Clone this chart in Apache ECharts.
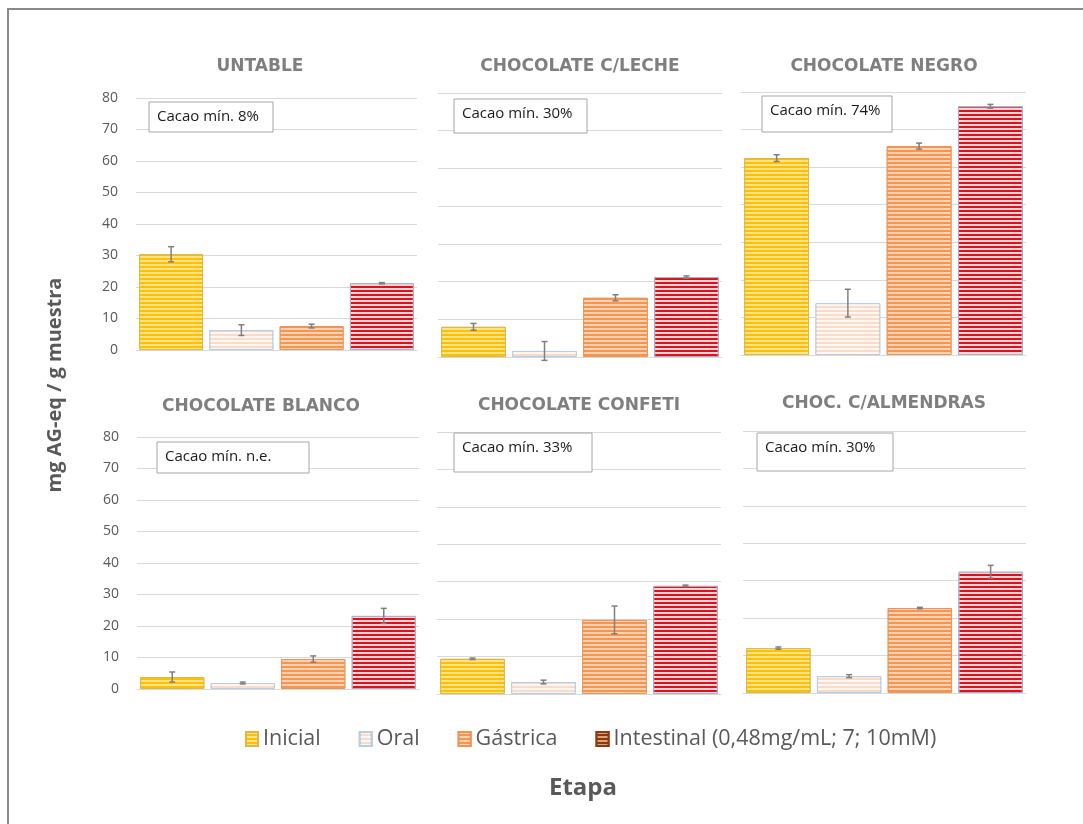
<!DOCTYPE html>
<html>
<head>
<meta charset="utf-8">
<script src="https://cdn.jsdelivr.net/npm/echarts@6/dist/echarts.min.js"></script>
<style>
  html, body { margin: 0; padding: 0; background: #ffffff; }
  #chart { width: 1083px; height: 824px; }
</style>
</head>
<body>
<div id="chart"></div>
<script>
// Digestion stages (one bar per stage in every panel)
const stages = ['Inicial', 'Oral', 'Gástrica', 'Intestinal (0,48mg/mL; 7; 10mM)'];

// Product panels and their minimum cocoa content
const products = ['UNTABLE', 'CHOCOLATE C/LECHE', 'CHOCOLATE NEGRO',
                  'CHOCOLATE BLANCO', 'CHOCOLATE CONFETI', 'CHOC. C/ALMENDRAS'];
const cacaoNotes = ['Cacao mín. 8%', 'Cacao mín. 30%', 'Cacao mín. 74%',
                    'Cacao mín. n.e.', 'Cacao mín. 33%', 'Cacao mín. 30%'];

// mg AG-eq / g muestra, per stage (Inicial, Oral, Gástrica, Intestinal)
const untable     = [30.4, 6.3, 7.6, 21.2];
const leche       = [8.0, 1.6, 15.7, 21.2];
const negro       = [52.4, 13.8, 55.6, 66.2];
const blanco      = [3.8, 1.9, 9.5, 23.2];
const confeti     = [9.4, 3.2, 19.8, 28.9];
const almendras   = [12.0, 4.5, 22.7, 32.4];

// standard deviations (error bars)
const untableErr   = [2.4, 1.7, 0.6, 0.2];
const lecheErr     = [0.9, 2.5, 0.8, 0.3];
const negroErr     = [0.9, 3.7, 0.8, 0.5];
const blancoErr    = [1.6, 0.3, 1.0, 2.4];
const confetiErr   = [0.2, 0.5, 3.7, 0.2];
const almendrasErr = [0.3, 0.4, 0.2, 1.7];

// value axis ranges of each panel and the tick step
const axisMax = [80, 70, 70, 80, 70, 70];
const tickStep = 10;

const values = [untable, leche, negro, blanco, confeti, almendras];
const errors = [untableErr, lecheErr, negroErr, blancoErr, confetiErr, almendrasErr];

// panel layout (pixels)
const grids = [
  { left: 136, top: 98,  width: 281, height: 252 },
  { left: 438, top: 93,  width: 284, height: 264 },
  { left: 741, top: 92,  width: 285, height: 263 },
  { left: 137, top: 437, width: 282, height: 252 },
  { left: 437, top: 432, width: 284, height: 262 },
  { left: 743, top: 431, width: 283, height: 262 }
];
const titlePos = [[260, 67], [580, 67], [884, 67], [261, 407], [579, 406], [884, 404]];
const notePos = [
  [149, 102, 124, 30], [454, 99, 133, 34], [762, 96, 130, 36],
  [157, 442, 152, 31], [454, 433, 138, 39], [757, 433, 136, 38]
];

// striped fills
function stripes(color) {
  return { symbol: 'rect', symbolSize: 1, dashArrayX: [1, 0], dashArrayY: [2, 2], rotation: 0, color: color };
}
const stageStyles = [
  { color: '#FFC000', borderColor: '#D9B94A', borderWidth: 1, decal: stripes('#FFE38A') },
  { color: '#F8DCCB', borderColor: '#B8CCE4', borderWidth: 1, decal: stripes('#FFF6F0') },
  { color: '#F7954F', borderColor: '#E8955A', borderWidth: 1, decal: stripes('#FCD2B4') },
  { color: '#D8121F', borderColor: '#A7B0CC', borderWidth: 1, decal: stripes('#F9D6D6') }
];

const xAxes = [], yAxes = [], series = [], graphics = [];

grids.forEach(function (g, p) {
  const labelled = (p % 3 === 0);
  xAxes.push({
    type: 'category', gridIndex: p, data: stages,
    axisLine: { show: true, lineStyle: { color: '#D9D9D9', width: 1 } },
    axisTick: { show: false }, axisLabel: { show: false }
  });
  yAxes.push({
    type: 'value', gridIndex: p, min: 0, max: axisMax[p], interval: tickStep,
    axisLine: { show: false }, axisTick: { show: false },
    axisLabel: { show: labelled, color: '#595959', fontSize: 14, margin: 18, fontFamily: 'Open Sans' },
    splitLine: { show: true, lineStyle: { color: '#D9D9D9', width: 1 } }
  });
  stages.forEach(function (name, s) {
    series.push({
      type: 'bar', name: name, xAxisIndex: p, yAxisIndex: p, stack: 'panel' + p,
      barWidth: '91%',
      itemStyle: stageStyles[s],
      emphasis: { disabled: true },
      data: values[p].map(function (v, i) { return i === s ? v : '-'; })
    });
  });
  series.push({
    type: 'custom', xAxisIndex: p, yAxisIndex: p, z: 5, silent: true,
    data: values[p].map(function (v, i) { return [i, v, errors[p][i]]; }),
    encode: { x: 0, y: 1 },
    renderItem: function (params, api) {
      const i = api.value(0), v = api.value(1), e = api.value(2);
      const hi = api.coord([i, v + e]);
      const lo = api.coord([i, v - e]);
      const hw = 3;
      const st = { stroke: '#7F7F7F', lineWidth: 1.5 };
      return {
        type: 'group', children: [
          { type: 'line', shape: { x1: hi[0], y1: hi[1], x2: lo[0], y2: lo[1] }, style: st },
          { type: 'line', shape: { x1: hi[0] - hw, y1: hi[1], x2: hi[0] + hw, y2: hi[1] }, style: st },
          { type: 'line', shape: { x1: lo[0] - hw, y1: lo[1], x2: lo[0] + hw, y2: lo[1] }, style: st }
        ]
      };
    }
  });

  graphics.push({
    type: 'text', x: titlePos[p][0], y: titlePos[p][1], z: 50,
    style: { text: products[p], fill: '#7F7F7F', font: 'bold 17px "DejaVu Sans"',
             textAlign: 'center', textVerticalAlign: 'middle' }
  });
  const b = notePos[p];
  graphics.push({
    type: 'rect', z: 60, shape: { x: b[0], y: b[1], width: b[2], height: b[3] },
    style: { fill: '#ffffff', stroke: '#A6A6A6', lineWidth: 1 }
  });
  graphics.push({
    type: 'text', z: 61, x: b[0] + 8, y: b[1] + 15,
    style: { text: cacaoNotes[p], fill: '#1A1A1A', font: '15px "Open Sans"',
             textAlign: 'left', textVerticalAlign: 'middle' }
  });
});

// outer frame and axis titles
graphics.push({
  type: 'rect', z: 70, shape: { x: 8, y: 9, width: 1100, height: 840 },
  style: { fill: 'none', stroke: '#8A8A8A', lineWidth: 2 }
});
graphics.push({
  type: 'text', z: 70, x: 55, y: 385, rotation: Math.PI / 2,
  style: { text: 'mg AG-eq / g muestra', fill: '#595959', font: 'bold 20px "Open Sans"',
           textAlign: 'center', textVerticalAlign: 'middle' }
});
graphics.push({
  type: 'text', z: 70, x: 583, y: 788,
  style: { text: 'Etapa', fill: '#595959', font: 'bold 24px "Open Sans"',
           textAlign: 'center', textVerticalAlign: 'middle' }
});

const legendData = stages.map(function (name, s) {
  if (s === 3) {
    return { name: name, itemStyle: { color: '#8A3A10', borderColor: '#8A3A10', decal: stripes('#D9A27C') } };
  }
  return { name: name };
});

const chart = echarts.init(document.getElementById('chart'), null, { renderer: 'canvas' });
chart.setOption({
  animation: false,
  backgroundColor: '#ffffff',
  textStyle: { fontFamily: 'Open Sans' },
  grid: grids,
  xAxis: xAxes,
  yAxis: yAxes,
  legend: {
    left: 245, top: 728, padding: 0, icon: 'rect',
    itemWidth: 12, itemHeight: 14, itemGap: 38,
    selectedMode: false,
    data: legendData,
    textStyle: { color: '#595959', fontSize: 21.5, fontFamily: 'Open Sans' }
  },
  graphic: graphics,
  series: series
});
</script>
</body>
</html>
